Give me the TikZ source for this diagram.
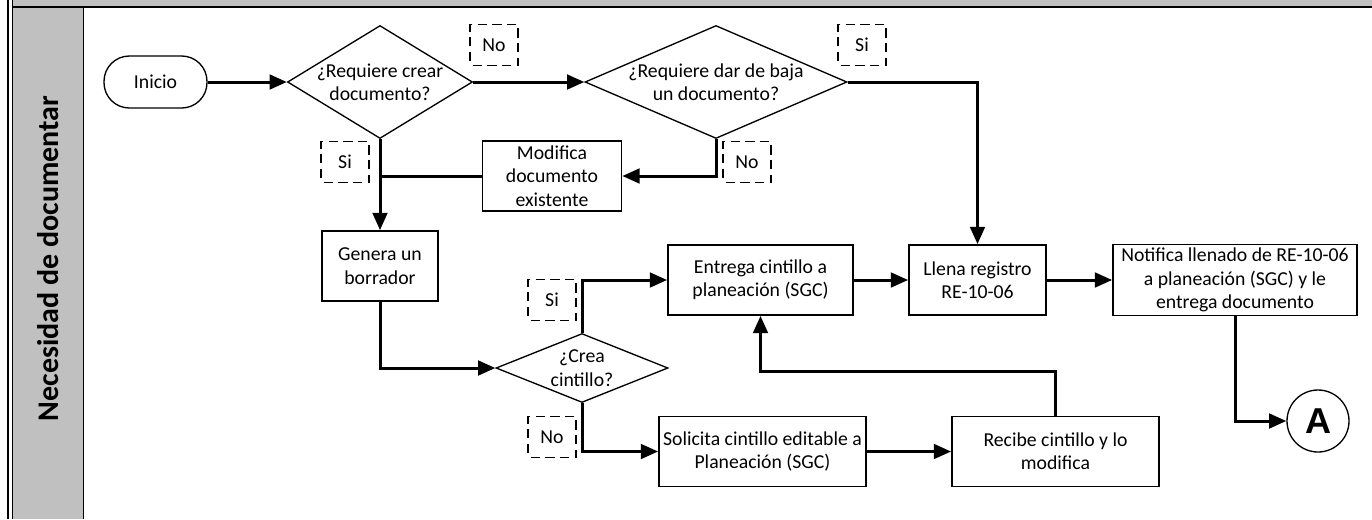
\documentclass[tikz,border=0pt]{standalone}
\usepackage{fontspec}
\setmainfont{Carlito}
\newfontfamily\arialfont{Liberation Sans}
\usetikzlibrary{shapes.geometric,arrows.meta,calc}
\definecolor{lanegray}{RGB}{192,192,192}
\tikzset{
  base/.style={font=\fontsize{14.8}{17.5}\selectfont, align=center, inner sep=0pt},
  procbox/.style={base, draw, line width=1.3pt, rectangle},
  decision/.style={draw, line width=1pt, diamond, inner sep=0pt},
  terminal/.style={base, draw, line width=1pt, rectangle, rounded corners=19pt, minimum width=77.25pt, minimum height=39pt},
  answer/.style={base, draw, line width=1pt, dash pattern=on 7pt off 4pt, dash phase=-2pt, minimum width=36pt, minimum height=30.75pt},
  conn/.style={line width=2.25pt, -{Triangle[length=13pt,width=11pt]}},
  plain/.style={line width=2.25pt},
}
\begin{document}
\begin{tikzpicture}[x=0.75pt,y=-0.75pt]
\useasboundingbox (0,0) rectangle (1372,519);
% frame
\fill[lanegray] (13,0) rectangle (1372,7);
\fill[lanegray] (13,7) rectangle (83.5,519);
\draw[line width=1.5pt] (13,7.3) -- (1372,7.3);
\draw[line width=0.9pt] (8,0) -- (8,519);
\draw[line width=0.9pt] (12.7,0) -- (12.7,519);
\draw[line width=1.3pt] (83.5,7.3) -- (83.5,519);
\node[rotate=90, font=\fontsize{22.5}{24}\selectfont\bfseries, inner sep=0pt] (lane) at (48,258.5) {Necesidad de documentar};

% nodes
\node[terminal] (ini) at (155.5,82) {Inicio};
\node[decision, minimum width=138.75pt, minimum height=84.75pt] (d1) at (380,82) {};
\node[base] (d1t) at (d1.center) {¿Requiere crear\\documento?};
\node[decision, minimum width=196.5pt, minimum height=84.75pt] (d2) at (716,82) {};
\node[base] (d2t) at (d2.center) {¿Requiere dar de baja\\un documento?};
\node[procbox, minimum width=104.25pt, minimum height=52.5pt] (mod) at (552,176) {Modifica\\documento\\existente};
\node[procbox, minimum width=87pt, minimum height=52.5pt] (gen) at (380,266) {Genera un\\borrador};
\node[decision, minimum width=129pt, minimum height=51.75pt] (crea) at (582,368) {};
\node[base] (creat) at (crea.center) {¿Crea\\cintillo?};
\node[procbox, minimum width=138.75pt, minimum height=52.5pt] (ent) at (760.5,280) {Entrega cintillo a\\planeación (SGC)};
\node[procbox, minimum width=155.25pt, minimum height=52.5pt] (sol) at (762.5,451.5) {Solicita cintillo editable a\\Planeación (SGC)};
\node[procbox, minimum width=155.25pt, minimum height=52.5pt] (rec) at (1055.5,451.5) {Recibe cintillo y lo\\modifica};
\node[procbox, minimum width=102.75pt, minimum height=52.5pt] (lle) at (977.5,280) {Llena registro\\RE-10-06};
\node[procbox, minimum width=183pt, minimum height=53.25pt] (not) at (1235,280) {Notifica llenado de RE-10-06\\a planeación (SGC) y le\\entrega documento};
\node[draw, circle, line width=1pt, minimum size=46.5pt, inner sep=0pt, font=\arialfont\fontsize{27}{28}\selectfont\bfseries] (A) at (1318,421) {A};

% answer labels
\node[answer] (no1) at (494,45) {No};
\node[answer] (si2) at (862,45) {Si};
\node[answer] (no3) at (747,162) {No};
\node[answer] (si1) at (345,162) {Si};
\node[answer] (si3) at (552,300) {Si};
\node[answer] (no4) at (552,437) {No};

\coordinate (j1) at (380,176);

% connectors
\draw[conn] (ini.east) -- (d1.west);
\draw[conn] (d1.east) -- (d2.west);
\draw[conn] (d2.east) -- (lle.north |- d2.east) -- (lle.north);
\draw[conn] (d2.south) |- (mod.east);
\draw[plain] (mod.west) -- (j1);
\draw[conn] (d1.south) -- (gen.north);
\draw[conn] (gen.south) |- (crea.west);
\draw[conn] (crea.north) |- (ent.west);
\draw[conn] (crea.south) |- (sol.west);
\draw[conn] (sol.east) -- (rec.west);
\draw[conn] (rec.north) -- ++(0,-44) -| (ent.south);
\draw[conn] (ent.east) -- (lle.west);
\draw[conn] (lle.east) -- (not.west);
\draw[conn] (not.south) |- (A.west);
\end{tikzpicture}
\end{document}
